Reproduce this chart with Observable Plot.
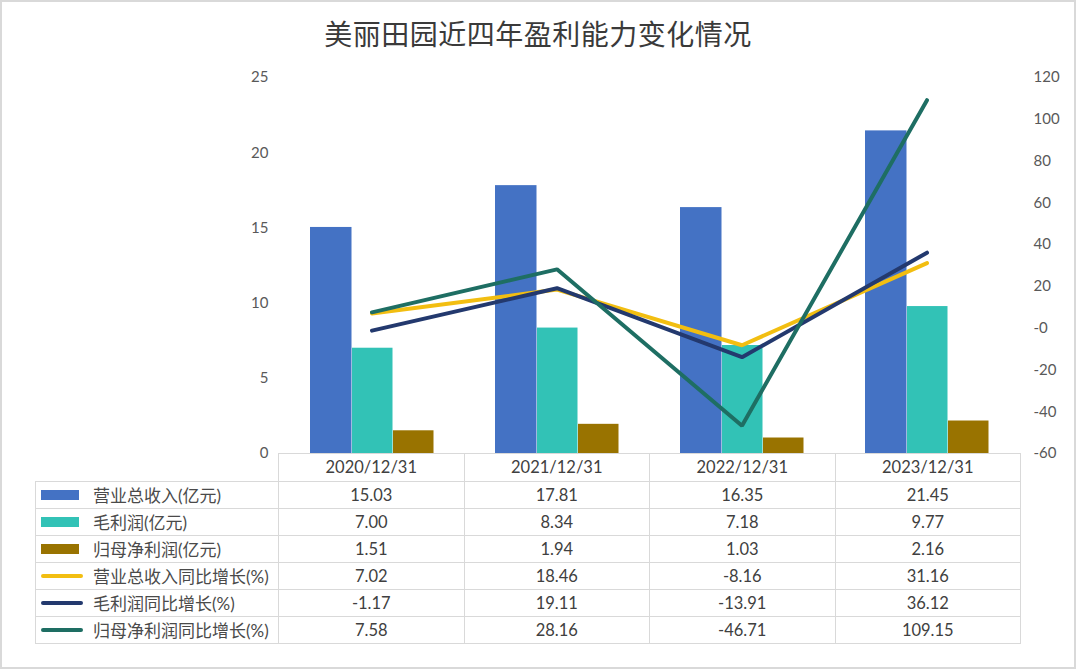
<!DOCTYPE html>
<html><head><meta charset="utf-8">
<script src="https://cdn.jsdelivr.net/npm/d3@7"></script>
<script src="https://cdn.jsdelivr.net/npm/@observablehq/plot@0.6"></script>
<style>
body{margin:0;background:#fff;font-family:Lato,"Noto Sans CJK SC",sans-serif;}
#frame{position:relative;width:1076px;height:669px;overflow:hidden;background:#fff;}
#border{position:absolute;left:0;top:0;width:1076px;height:669px;box-sizing:border-box;border:2px solid #d9d9d9;pointer-events:none;}
#title{position:absolute;left:0;top:13px;width:1076px;text-align:center;font-family:"Noto Sans CJK SC",sans-serif;font-size:28px;color:#3a3a3a;letter-spacing:0.5px;}
#chart{position:absolute;left:0;top:0;}
#tbl{position:absolute;left:35px;top:453px;border-collapse:collapse;table-layout:fixed;font-size:16.5px;color:#404040;line-height:1;}
#tbl td{border:1.5px solid #d9d9d9;padding:0;white-space:nowrap;}
#tbl td.v{text-align:center;}
#tbl td.lab{position:relative;padding-left:57px;font-size:17px;color:#4a4a4a;}
.sw{position:absolute;left:5px;}
</style></head>
<body>
<div id="frame">
  <div id="chart"></div>
  <div id="title">美丽田园近四年盈利能力变化情况</div>
  <table id="tbl"></table>
  <div id="border"></div>
</div>
<script>
const dates = ["2020/12/31","2021/12/31","2022/12/31","2023/12/31"];
const revenue = [15.03,17.81,16.35,21.45];
const grossProfit = [7.00,8.34,7.18,9.77];
const netProfit = [1.51,1.94,1.03,2.16];
const revenueYoY = [7.02,18.46,-8.16,31.16];
const grossYoY = [-1.17,19.11,-13.91,36.12];
const netYoY = [7.58,28.16,-46.71,109.15];
const leftTicks = [0,5,10,15,20,25];
const rightTicks = [-60,-40,-20,0,20,40,60,80,100,120];

const series = [
  {name:"营业总收入(亿元)", values:revenue, color:"#4472C4", type:"bar"},
  {name:"毛利润(亿元)", values:grossProfit, color:"#32C2B6", type:"bar"},
  {name:"归母净利润(亿元)", values:netProfit, color:"#997300", type:"bar"},
  {name:"营业总收入同比增长(%)", values:revenueYoY, color:"#F2BE11", type:"line"},
  {name:"毛利润同比增长(%)", values:grossYoY, color:"#23396E", type:"line"},
  {name:"归母净利润同比增长(%)", values:netYoY, color:"#1E6E63", type:"line"}
];

// map right axis (-60..120) onto left axis (0..25)
const toLeft = v => (v + 60) / 180 * 25;
const fromLeft = y => Math.round(y / 25 * 180 - 60);

const rows = s => dates.map((d,i) => ({date:d, v:s.values[i]}));
const insets = [[31,112.5],[73,71.5],[114,30.5]];

const marks = [];
series.filter(s => s.type==="bar").forEach((s,k) => {
  marks.push(Plot.barY(rows(s), {x:"date", y:"v", fill:s.color, insetLeft:insets[k][0], insetRight:insets[k][1]}));
});
series.filter(s => s.type==="line").forEach(s => {
  marks.push(Plot.line(rows(s), {x:"date", y:d => toLeft(d.v), stroke:s.color, strokeWidth:4, strokeLinejoin:"miter", strokeLinecap:"round"}));
});
marks.push(Plot.axisY({anchor:"left", ticks:leftTicks, tickSize:0, tickPadding:10, fontSize:15, fill:"#595959", label:null}));
marks.push(Plot.axisY({anchor:"right", ticks:rightTicks.map(toLeft), tickFormat:fromLeft, tickSize:0, tickPadding:13, fontSize:15, fill:"#595959", label:null}));

const chart = Plot.plot({
  width:1076, height:669,
  marginLeft:278, marginRight:56, marginTop:77, marginBottom:216,
  x:{type:"band", domain:dates, padding:0, axis:null},
  y:{domain:[0,25], axis:null, label:null},
  style:{fontFamily:'Lato,"Noto Sans CJK SC",sans-serif', fontSize:"15px", color:"#595959", background:"transparent"},
  marks
});
document.getElementById("chart").appendChild(chart);

// data table
const tbl = document.getElementById("tbl");
const cg = document.createElement("colgroup");
[243,185.5,185.5,185.5,185.5].forEach(w => { const c=document.createElement("col"); c.style.width=w+"px"; cg.appendChild(c); });
tbl.appendChild(cg);
const hr = tbl.insertRow();
hr.style.height = "28px";
const c0 = hr.insertCell(); c0.style.borderTop="none"; c0.style.borderLeft="none";
dates.forEach(d => { const c = hr.insertCell(); c.className="v"; c.textContent=d; });
series.forEach(s => {
  const r = tbl.insertRow(); r.style.height="27px";
  const lc = r.insertCell(); lc.className="lab";
  const sw = document.createElement("div"); sw.className="sw";
  if (s.type==="bar") { sw.style.cssText += `width:38px;height:10px;top:8px;background:${s.color};`; }
  else { sw.style.cssText += `width:42px;height:4px;top:11px;border-radius:2px;background:${s.color};`; }
  lc.appendChild(sw);
  lc.appendChild(document.createTextNode(s.name));
  s.values.forEach(v => { const c = r.insertCell(); c.className="v"; c.textContent = v.toFixed(2); });
});
</script>
</body></html>
